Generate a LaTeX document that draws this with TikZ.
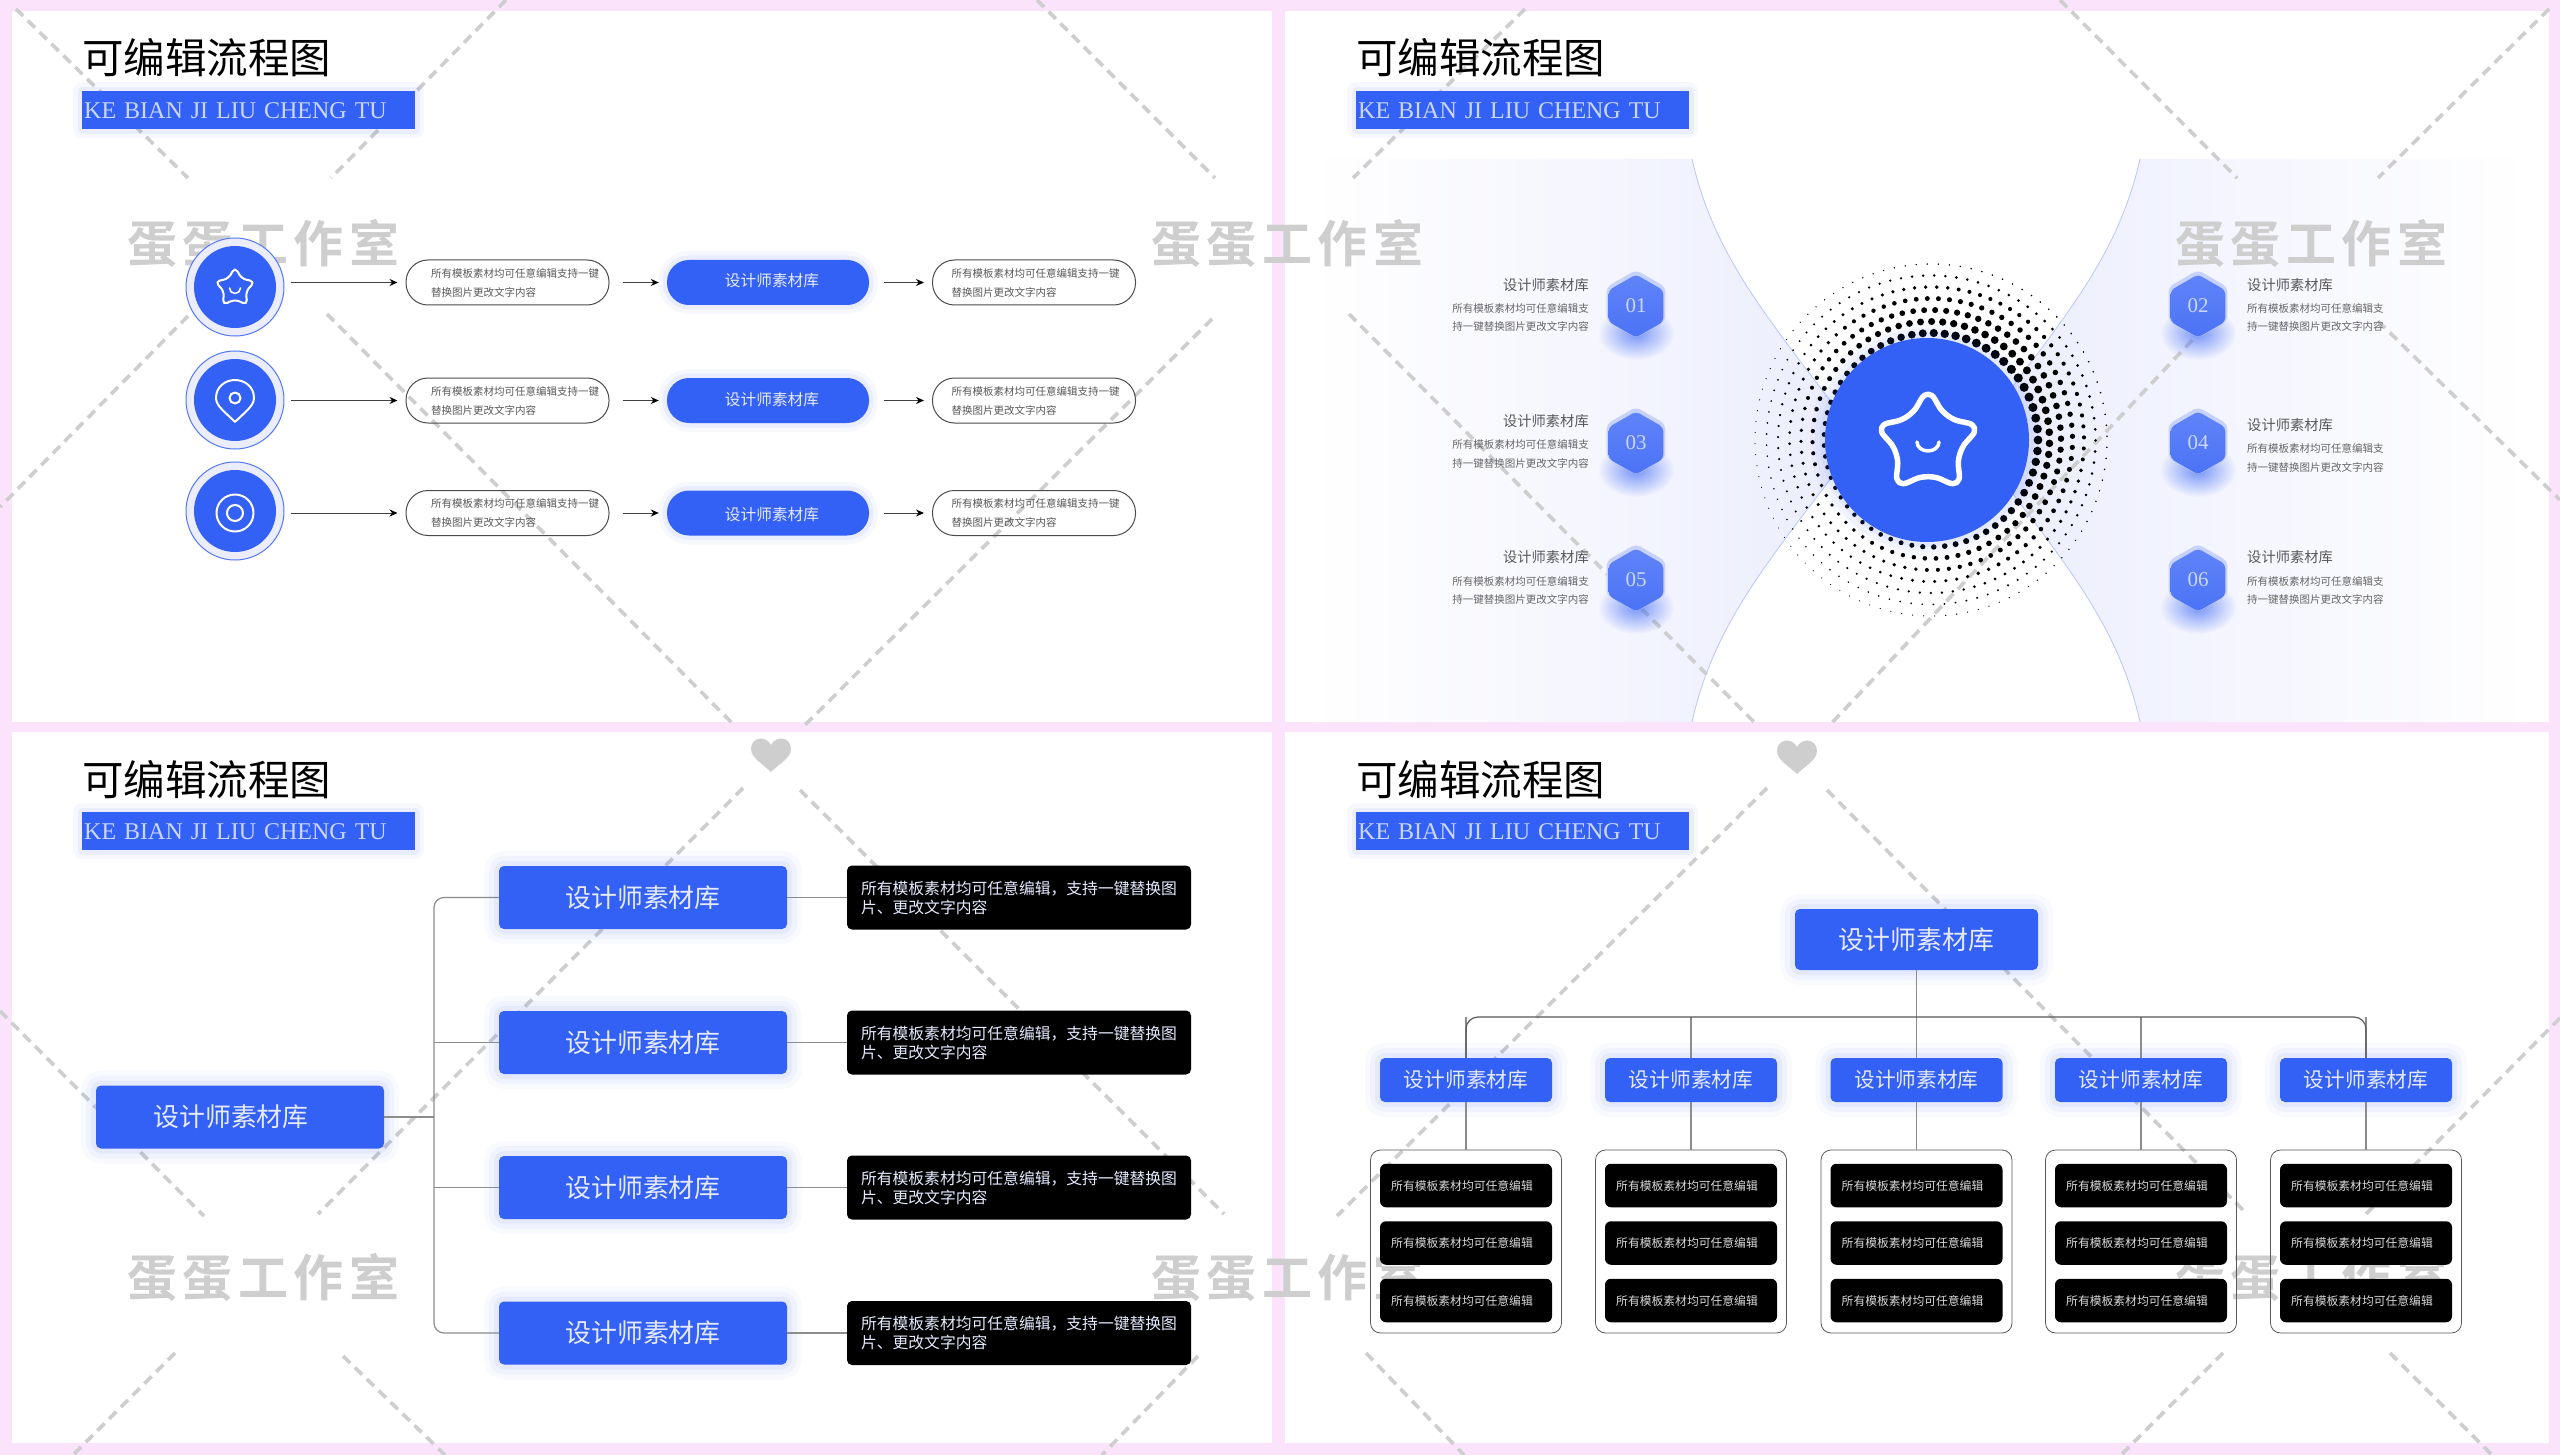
\documentclass[tikz,border=0pt]{standalone}
\usepackage{fontspec}
\setmainfont{Noto Sans CJK SC}
\newfontfamily\latinfont{Liberation Serif}
\usetikzlibrary{arrows.meta}
\usetikzlibrary{calc}
\usetikzlibrary{fadings}
\usetikzlibrary{positioning}
\usetikzlibrary{shapes.geometric}

\definecolor{mainblue}{HTML}{3360F5}
\definecolor{pagepink}{HTML}{FBE4FB}
\definecolor{markgrey}{HTML}{CECECE}
\definecolor{paleblue}{HTML}{EBEDFD}
\definecolor{softwhite}{HTML}{E6EAFF}
\definecolor{bandtext}{HTML}{CBD7FF}

\newcommand{\tf}[2]{\fontsize{#1}{#2}\selectfont}
\newcommand{\pilltxt}[1]{\hspace*{#1}所有模板素材均可任意编辑支持一键\\\hspace*{#1}替换图片更改文字内容}
\newcommand{\sidetxt}{所有模板素材均可任意编辑支\\持一键替换图片更改文字内容}
\newcommand{\longtxt}{所有模板素材均可任意编辑，支持一键替换图\\片、更改文字内容}

\tikzfading[name=softblob, inner color=transparent!35, outer color=transparent!100]

\tikzset{
	softglow/.style={
		preaction={draw=mainblue,draw opacity=.03,line width=30pt,line join=round},
		preaction={draw=mainblue,draw opacity=.04,line width=20pt,line join=round},
		preaction={draw=mainblue,draw opacity=.06,line width=10pt,line join=round}},
	smallglow/.style={
		preaction={draw=mainblue,draw opacity=.04,line width=18pt,line join=round},
		preaction={draw=mainblue,draw opacity=.07,line width=9pt,line join=round}},
	panel/.style={fill=white},
	titletxt/.style={anchor=west,inner sep=0pt,text=black,font=\tf{41.5}{41.5}},
	bandbox/.style={anchor=north west,fill=mainblue,minimum height=38pt,text width=329pt,
		inner xsep=2pt,inner ysep=0pt,align=left,text=bandtext,font=\latinfont\tf{24}{24},smallglow},
	watermark/.style={anchor=west,inner sep=0pt,text=markgrey,font=\wmfont\tf{50}{50}},
	markline/.style={draw=markgrey,line width=3.6pt,dash pattern=on 10pt off 6.6pt},
	heart/.style={fill=markgrey},
	iconline/.style={draw=white,line width=2pt,line join=round,line cap=round},
	outerring/.style={circle,draw=mainblue!85,line width=1pt,fill=paleblue,minimum size=98pt,inner sep=0pt},
	innerdisc/.style={circle,fill=mainblue,minimum size=82pt,inner sep=0pt},
	textpill/.style={draw=black!70,line width=1pt,rounded corners=22pt,minimum width=203pt,minimum height=45pt,
		text width=203pt,inner sep=0pt,align=left,text=black!65,font=\tf{10.5}{19}},
	bluepill/.style={fill=mainblue,rounded corners=22pt,minimum width=202pt,minimum height=45pt,inner sep=0pt,
		text=softwhite,font=\tf{15.7}{16},smallglow},
	flowarrow/.style={draw=black!75,line width=1pt,-{Stealth[length=8pt,width=7pt,black]},shorten <=13pt,shorten >=8pt},
	hexrim/.style={regular polygon,regular polygon sides=6,shape border rotate=30,minimum size=68pt,inner sep=0pt,
		rounded corners=5pt,fill=mainblue!28},
	hexcell/.style={regular polygon,regular polygon sides=6,shape border rotate=30,minimum size=63pt,inner sep=0pt,
		rounded corners=4pt,top color=mainblue!78,bottom color=mainblue!88,text=bandtext,font=\latinfont\tf{21}{21}},
	sidehead/.style={inner sep=0pt,text=black!65,font=\tf{14.3}{15}},
	sidedesc/.style={inner sep=0pt,text=black!60,font=\tf{10.5}{18.7}},
	bluebox/.style={fill=mainblue,rounded corners=5pt,minimum width=288pt,minimum height=63pt,inner sep=0pt,
		text=softwhite,font=\tf{25.9}{26},softglow},
	blackbox/.style={fill=black,rounded corners=5pt,minimum width=344pt,minimum height=64pt,inner sep=0pt,
		text width=316pt,align=left,text=softwhite,font=\tf{15.8}{19}},
	midbox/.style={fill=mainblue,rounded corners=5pt,minimum width=172pt,minimum height=44pt,inner sep=0pt,
		text=softwhite,font=\tf{20.7}{21},softglow},
	framebox/.style={draw=black!65,line width=.8pt,rounded corners=10pt,minimum width=191pt,minimum height=183pt,inner sep=0pt},
	cellbox/.style={fill=black,rounded corners=6pt,minimum width=172pt,minimum height=43.5pt,inner sep=0pt,
		text=black!15,font=\tf{11.8}{12}},
	linkline/.style={draw=black!45,line width=1.2pt}
}

\begin{document}
\newfontfamily\wmfont[LetterSpace=11]{Noto Sans CJK SC Bold}
\begin{tikzpicture}[x=1pt,y=-1pt]
	\useasboundingbox (0,0) rectangle (2560,1455);
	\fill[pagepink] (0,0) rectangle (2560,1455);
	\fill[panel] (12,11) rectangle (1272,722);
	\fill[panel] (1285,11) rectangle (2549,722);
	\fill[panel] (12,732) rectangle (1272,1443);
	\fill[panel] (1285,732) rectangle (2549,1443);

	\shade[left color=white,middle color=paleblue!70,right color=paleblue] (1310,159) -- (1692,159)
		.. controls (1715,260) and (1770,320) .. (1860,440)
		.. controls (1770,560) and (1715,620) .. (1692,722) -- (1310,722) -- cycle;
	\shade[left color=paleblue,middle color=paleblue!70,right color=white] (2530,159) -- (2140,159)
		.. controls (2117,260) and (2062,320) .. (1972,440)
		.. controls (2062,560) and (2117,620) .. (2140,722) -- (2530,722) -- cycle;
	\draw[mainblue!35,line width=.8pt] (1692,159) .. controls (1715,260) and (1770,320) .. (1860,440)
		.. controls (1770,560) and (1715,620) .. (1692,722);
	\draw[mainblue!35,line width=.8pt] (2140,159) .. controls (2117,260) and (2062,320) .. (1972,440)
		.. controls (2062,560) and (2117,620) .. (2140,722);

	\foreach \n/\x/\y in {1/127/243,2/1151/243,3/2175/243,4/127/1277,5/1151/1277,6/2175/1277}{
		\node[watermark] (mark\n) at (\x,\y) {蛋蛋工作室};
	}
	\foreach \xa/\ya/\xb/\yb in {16/9/188/178,506/0/331/178,1037/0/1215/178,327/314/735/726,188/316/0/507,1212/319/804/726,
		1525/9/1353/178,2060/0/2237/178,2549/9/2378/178,1349/314/1758/726,2215/316/1829/726,2378/321/2560/500,
		743/788/318/1214,800/790/1224/1214,0/1011/204/1216,175/1353/73/1455,343/1356/445/1455,1198/1356/1102/1455,
		1767/788/1337/1216,1827/790/2247/1214,2560/1018/2366/1214,1366/1353/1464/1455,2223/1353/2121/1455,2390/1353/2492/1455}{
		\draw[markline] (\xa,\ya) -- (\xb,\yb);
	}
	\foreach \x/\y in {771/755,1797/757}{
		\begin{scope}[shift={(\x,\y)}]
			\fill[heart] (0,17) .. controls (-8,9) and (-20,3) .. (-20,-6)
				.. controls (-20,-18) and (-5,-20) .. (0,-10)
				.. controls (5,-20) and (20,-18) .. (20,-6)
				.. controls (20,3) and (8,9) .. (0,17) -- cycle;
		\end{scope}
	}

	\foreach \n/\x/\y/\yb in {1/82/58/91,2/1356/58/91,3/82/780/812,4/1356/780/812}{
		\node[titletxt] (title\n) at (\x,\y) {可编辑流程图};
		\node[bandbox] (band\n) at (\x,\yb) {KE BIAN JI LIU CHENG TU};
	}

	\foreach \r/\y/\cy/\ty in {1/282.5/287/281,2/400.5/400/400,3/513/511/515}{
		\node[outerring] (ring\r) at (235,\cy) {};
		\node[innerdisc] (disc\r) at (ring\r) {};
		\node[textpill] (left\r) at (507.5,\y) {\pilltxt{25pt}};
		\node[bluepill] (mid\r) at (768,\y) {};
		\node[inner sep=0pt,text=softwhite,font=\tf{15.7}{16}] (midtxt\r) at (772,\ty) {设计师素材库};
		\node[textpill] (right\r) at (1034,\y) {\pilltxt{19pt}};
		\draw[flowarrow,shorten <=6pt] (ring\r.east |- left\r.west) -- (left\r.west);
		\draw[flowarrow] (left\r.east) -- (mid\r.west);
		\draw[flowarrow,shorten <=15pt] (mid\r.east) -- (right\r.west);
	}
	\node[star,star points=5,star point ratio=1.85,minimum size=42pt,inner sep=0pt,rounded corners=5pt,iconline] (icon1) at (235,288) {};
	\draw[iconline,line width=1.6pt] (229.5,288) arc (180:0:5.5);
	\draw[iconline] (235,422) .. controls (225,412) and (216,406) .. (216,398)
		.. controls (216,387) and (225,380) .. (235,380)
		.. controls (245,380) and (254,387) .. (254,398)
		.. controls (254,406) and (245,412) .. (235,422) -- cycle;
	\node[circle,iconline,minimum size=11pt,inner sep=0pt] (icon2) at (235,398) {};
	\node[circle,iconline,minimum size=37pt,inner sep=0pt] (icon3) at (235,513) {};
	\node[circle,iconline,minimum size=16pt,inner sep=0pt] (icon4) at (icon3) {};

	\begin{scope}[shift={(1931,440)}]
		\foreach \k in {0,...,6}{
			\pgfmathsetmacro{\rr}{107+11.5*\k}
			\pgfmathtruncatemacro{\cnt}{2*3.14159*\rr/11}
			\foreach \j in {1,...,\cnt}{
				\pgfmathsetmacro{\ang}{\j/\cnt*360+7*\k}
				\pgfmathsetmacro{\dd}{4.3*(1-\k/7)*(.72+.28*cos(\ang+35))+.3}
				\fill[black] (\ang:\rr) circle (\dd);
			}
		}
	\end{scope}
	\node[circle,fill=mainblue,minimum size=204pt,inner sep=0pt,softglow] (centre) at (1927,440) {};
	\node[star,star points=5,star point ratio=1.85,minimum size=112pt,inner sep=0pt,rounded corners=14pt,iconline,line width=5.5pt] (bigstar) at (1928,443) {};
	\draw[iconline,line width=3.5pt] (1917,442) arc (180:0:11 and 9);

	\foreach \n/\y/\ya/\yb in {1/305/285/317.5,3/442/421/454,5/579/557/590.5}{
		\fill[mainblue,path fading=softblob] (1636,\y+28) ellipse (38 and 27);
		\node[hexrim] (rim\n) at (1636,\y-1) {};
		\node[hexcell] (hex\n) at (1636,\y+1) {0\n};
		\node[sidehead,anchor=east] (head\n) at (1589,\ya) {设计师素材库};
		\node[sidedesc,anchor=east,align=right] (desc\n) at (1589,\yb) {\sidetxt};
	}
	\foreach \n/\y/\ya/\yb in {2/305/285/317.5,4/442/425/458,6/579/557/590.5}{
		\fill[mainblue,path fading=softblob] (2198,\y+28) ellipse (38 and 27);
		\node[hexrim] (rim\n) at (2198,\y-1) {};
		\node[hexcell] (hex\n) at (2198,\y+1) {0\n};
		\node[sidehead,anchor=west] (head\n) at (2247,\ya) {设计师素材库};
		\node[sidedesc,anchor=west,align=left] (desc\n) at (2247,\yb) {\sidetxt};
	}

	\node[bluebox] (root) at (240,1117) {设计师素材库\hspace*{18pt}};
	\coordinate (bus) at (434,1117);
	\foreach \n/\y in {1/897.5,2/1042.5,3/1187.5,4/1333}{
		\node[bluebox] (blue\n) at (643,\y) {设计师素材库};
		\node[blackbox] (black\n) at (1019,\y) {\longtxt};
		\draw[linkline] (blue\n.east) -- (black\n.west);
	}
	\draw[linkline,rounded corners=10pt] (blue1.west) -| (bus) |- (blue4.west);
	\draw[linkline] (blue2.west) -- (bus |- blue2.west);
	\draw[linkline] (blue3.west) -- (bus |- blue3.west);
	\draw[linkline] (root.east) -- (bus);

	\node[bluebox,minimum width=243pt,minimum height=61pt] (head) at (1916.5,939.5) {设计师素材库};
	\coordinate (fork) at (1916.5,1017);
	\foreach \c/\x in {1/1466,2/1691,3/1916.5,4/2141,5/2366}{
		\node[midbox] (sub\c) at (\x,1080) {设计师素材库};
		\node[framebox] (frame\c) at (\x,1241.5) {};
		\foreach \i/\y in {1/1185.5,2/1243,3/1300.5}{
			\node[cellbox] (cell\c\i) at (\x,\y) {所有模板素材均可任意编辑\hspace*{8pt}};
		}
		\draw[linkline] (sub\c.north) -- (sub\c.north |- fork);
		\draw[linkline] (sub\c.south) -- (frame\c.north);
	}
	\draw[linkline] (head.south) -- (fork);
	\draw[linkline,draw=black!65,rounded corners=12pt] (sub1.north) |- (fork) -| (sub5.north);
\end{tikzpicture}
\end{document}
